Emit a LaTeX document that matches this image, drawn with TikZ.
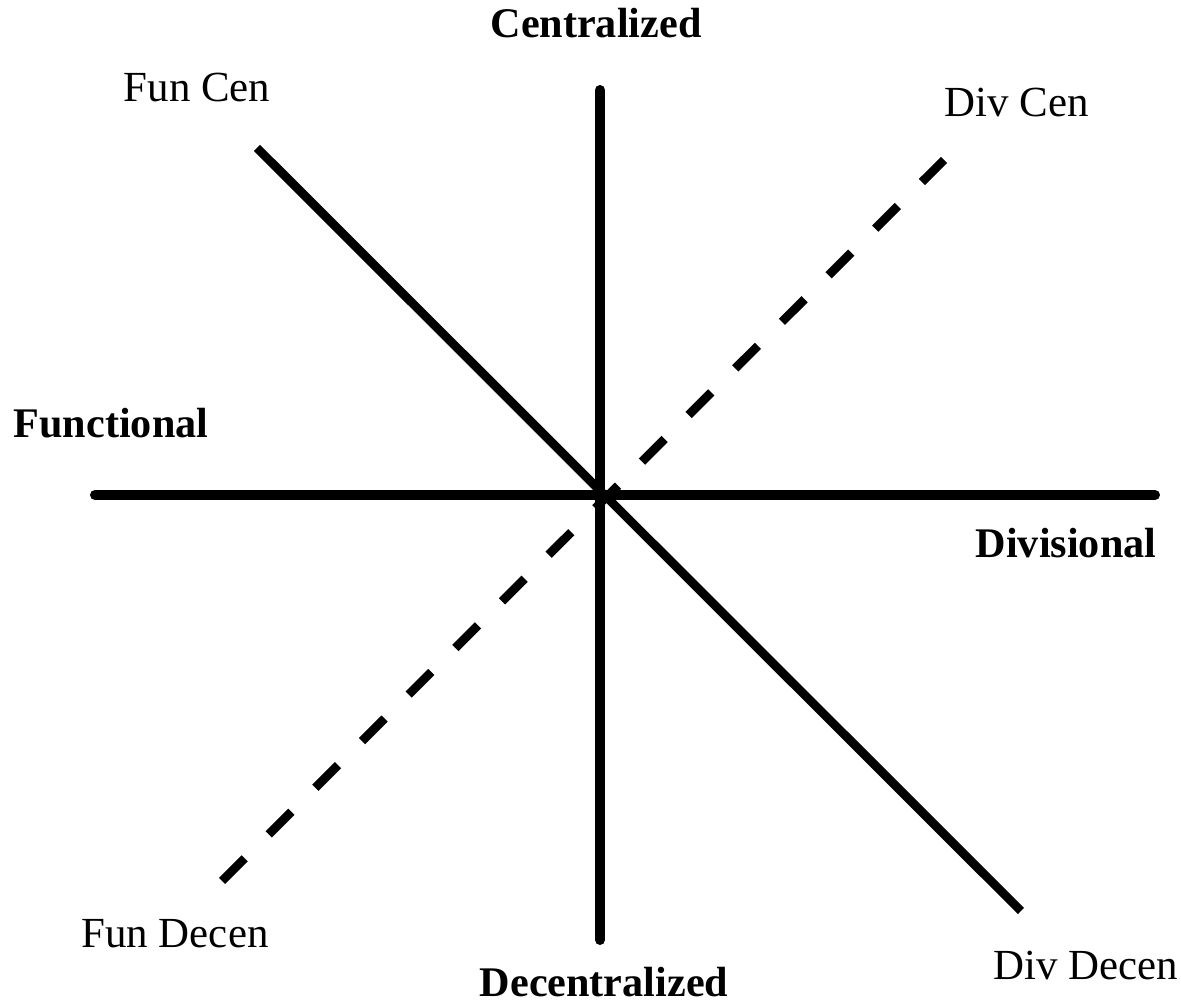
\documentclass[tikz,border=0pt]{standalone}
\usepackage{fontspec}
\setmainfont{Liberation Serif}
\usepackage{tikz}

\tikzset{
  axisline/.style={line width=2.85pt, line cap=round},
  diagline/.style={line width=2.5pt},
  axisname/.style={font=\fontsize{12}{14}\selectfont\bfseries, inner sep=0pt, anchor=base},
  cornername/.style={font=\fontsize{12.2}{14}\selectfont, inner sep=0pt, anchor=base}
}

\begin{document}
\begin{tikzpicture}[x=0.01cm, y=-0.01cm]
  \useasboundingbox (0,0) rectangle (1181,1004);
  % line ends
  \coordinate (top) at (600,90);
  \coordinate (bot) at (600,940);
  \coordinate (lft) at (95,495);
  \coordinate (rgt) at (1155,495);
  \coordinate (fc) at (257,148);
  \coordinate (dd) at (1021,911);
  \coordinate (fd) at (222,881);
  \coordinate (dc) at (944,160);
  % axes
  \draw[axisline] (lft) -- (rgt);
  \draw[axisline] (top) -- (bot);
  % diagonals
  \draw[diagline] (fc) -- (dd);
  \draw[diagline, dash pattern=on 0.32cm off 0.339cm] (fd) -- (dc);
  % axis names
  \foreach \nm/\x/\y/\txt in {cen/596/38/Centralized, dec/604/997/Decentralized,
      fun/111/438/Functional, div/1066/558/Divisional}
    \node[axisname] (\nm) at (\x,\y) {\txt};
  % corner names
  \foreach \nm/\x/\y/\txt in {funcen/197/102/Fun Cen, divcen/1017/117/Div Cen,
      fundec/175/948/Fun Decen, divdec/1086/980/Div Decen}
    \node[cornername] (\nm) at (\x,\y) {\txt};
\end{tikzpicture}
\end{document}
